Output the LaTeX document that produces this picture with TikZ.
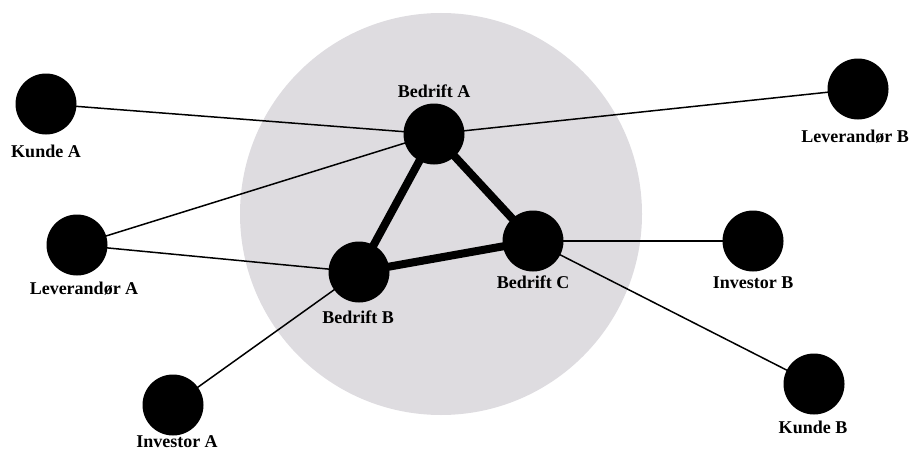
\documentclass[tikz,border=0pt]{standalone}
\usepackage{fontspec}
\setmainfont{Liberation Serif}
\usetikzlibrary{backgrounds}
\definecolor{cloud}{RGB}{222,220,224}
\begin{document}
\begin{tikzpicture}[x=1pt,y=-1pt,
  actor/.style={circle,fill=black,minimum size=61pt,inner sep=0pt},
  lbl/.style={anchor=base,font=\fontsize{18}{20}\selectfont\bfseries,inner sep=0pt},
  tie/.style={line width=1.5pt},
  bond/.style={line width=8pt}]
\useasboundingbox (0,0) rectangle (917,452);
\node[actor] (ka) at (46,104) {};
\node[actor] (ba) at (434,134) {};
\node[actor] (lb) at (858,89) {};
\node[actor] (la) at (77,245) {};
\node[actor] (bb) at (359,272) {};
\node[actor] (bc) at (533,241) {};
\node[actor] (ib) at (753,241) {};
\node[actor] (ia) at (173,405) {};
\node[actor] (kb) at (814,384) {};
\begin{scope}[on background layer]
  \fill[cloud] (441,214) circle[radius=201pt];
  \draw[tie] (ka.center) -- (ba.center);
  \draw[tie] (la.center) -- (ba.center);
  \draw[tie] (la.center) -- (bb.center);
  \draw[tie] (ia.center) -- (bb.center);
  \draw[tie] (ba.center) -- (lb.center);
  \draw[tie] (bc.center) -- (ib.center);
  \draw[tie] (bc.center) -- (kb.center);
  \draw[bond] (ba.center) -- (bb.center);
  \draw[bond] (ba.center) -- (bc.center);
  \draw[bond] (bb.center) -- (bc.center);
\end{scope}
\node[lbl] (tka) at (46,157) {Kunde A};
\node[lbl] (tba) at (434,97) {Bedrift A};
\node[lbl] (tlb) at (855,142) {Leverandør B};
\node[lbl] (tla) at (84,294) {Leverandør A};
\node[lbl] (tbb) at (358,323) {Bedrift B};
\node[lbl] (tbc) at (533,288) {Bedrift C};
\node[lbl] (tib) at (753,288) {Investor B};
\node[lbl] (tia) at (177,447) {Investor A};
\node[lbl] (tkb) at (813,433) {Kunde B};
\end{tikzpicture}
\end{document}
